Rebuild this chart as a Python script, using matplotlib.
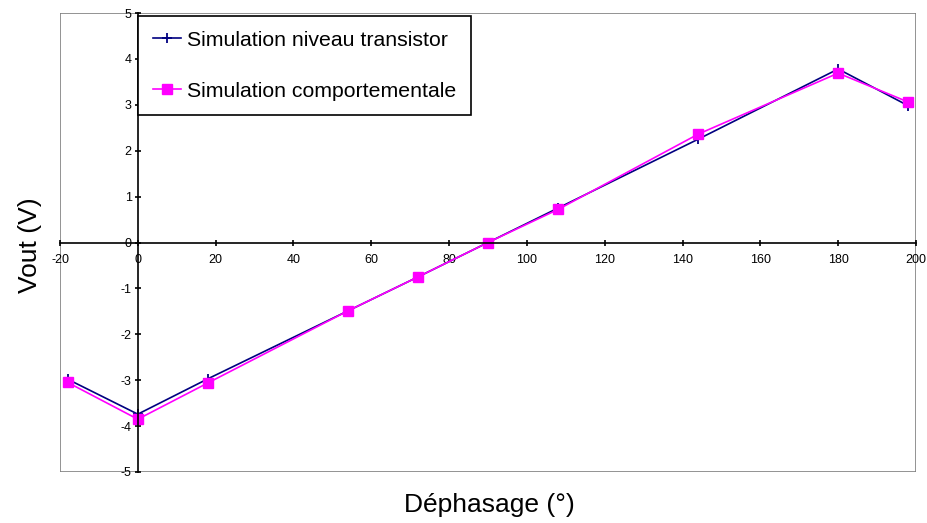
import numpy as np
import matplotlib.pyplot as plt
from matplotlib.patches import Rectangle

# Data
dephasage = [-18, 0, 18, 54, 72, 90, 108, 144, 180, 198]
v_transistor = [-2.98, -3.74, -2.97, -1.49, -0.75, 0.0, 0.75, 2.25, 3.78, 2.98]
v_comport = [-3.05, -3.85, -3.06, -1.49, -0.75, 0.0, 0.72, 2.36, 3.69, 3.06]

plt.rcParams['font.family'] = ['Liberation Sans', 'DejaVu Sans']
plt.rcParams['axes.unicode_minus'] = False

fig = plt.figure(figsize=(9.28, 5.23), dpi=100)
ax = fig.add_axes([60 / 928, 1 - 472 / 523, 856 / 928, 459 / 523])

ax.plot(dephasage, v_transistor, color='#000080', marker='+', markersize=7,
        markeredgewidth=1.3, linewidth=1.2, label='Simulation niveau transistor')
ax.plot(dephasage, v_comport, color='#FF00FF', marker='s', markersize=6.5,
        linewidth=1.2, label='Simulation comportementale')

ax.set_xlim(-20, 200)
ax.set_ylim(-5, 5)
ax.set_xticks(np.arange(-20, 201, 20))
ax.set_yticks(np.arange(-5, 6, 1))

# axes crossing at zero, Excel style
ax.spines['left'].set_position(('data', 0))
ax.spines['bottom'].set_position(('data', 0))
ax.spines['top'].set_visible(False)
ax.spines['right'].set_visible(False)
ax.spines['left'].set_linewidth(1.2)
ax.spines['bottom'].set_linewidth(1.2)
ax.add_patch(Rectangle((0, 0), 1, 1, transform=ax.transAxes, fill=False,
                       edgecolor='#808080', linewidth=1.2, zorder=0))

ax.tick_params(direction='inout', length=5, width=1.2, labelsize=9)
ax.tick_params(axis='x', pad=6)
ax.tick_params(axis='y', pad=2)

fig.text(30 / 928, 1 - 245 / 523, 'Vout (V)', rotation=90, fontsize=19,
         ha='center', va='center')
fig.text(489 / 928, 1 - 505 / 523, 'Déphasage (°)', fontsize=19,
         ha='center', va='center')

leg = ax.legend(loc='upper left', bbox_to_anchor=(0.091, 0.994), fontsize=15.3,
                frameon=True, fancybox=False, edgecolor='black', framealpha=1,
                labelspacing=1.5, handlelength=1.35, handletextpad=0.25,
                borderpad=0.7, borderaxespad=0)
leg.get_frame().set_linewidth(1.2)

fig.savefig('out.png', dpi=100)
